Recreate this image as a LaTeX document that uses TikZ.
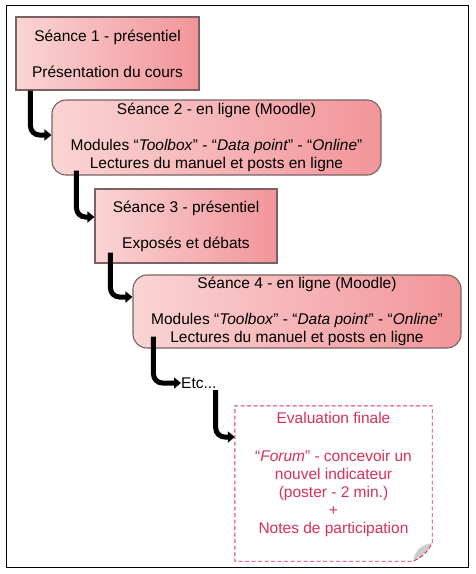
\documentclass[tikz,border=0pt]{standalone}
\usepackage{fontspec}
\setmainfont{Liberation Sans}
\usetikzlibrary{arrows.meta}
\definecolor{boxedge}{HTML}{7A6262}
\definecolor{pinkL}{HTML}{FAD4D4}
\definecolor{pinkD}{HTML}{F2959A}
\definecolor{evalred}{HTML}{D9305A}
\begin{document}
\begin{tikzpicture}[x=1pt,y=-1pt,
  seance/.style={draw=boxedge, line width=1.1pt, left color=pinkL, right color=pinkD,
    inner sep=0pt, font=\fontsize{15.5}{18}\selectfont, align=center},
  rbox/.style={seance, rounded corners=14pt},
  txt/.style={font=\fontsize{15.5}{18}\selectfont, align=center, inner sep=0pt},
  flow/.style={line width=5pt, rounded corners=9pt, -{Triangle[length=7pt,width=11pt]}},
  evaldash/.style={draw=evalred, line width=0.9pt, dash pattern=on 4pt off 2.5pt}
]
\useasboundingbox (0,0) rectangle (476,574);
\draw[line width=1pt] (6,5) rectangle (468,567);

\node[seance, minimum width=183pt, minimum height=73pt] (s1) at (107.5,53.5)
  {S\'eance 1 - pr\'esentiel\\[18pt]Pr\'esentation du cours};
\node[rbox, minimum width=329pt, minimum height=75pt] (s2) at (216.5,137.5)
  {S\'eance 2 - en ligne (Moodle)\\[18pt]Modules “\textit{Toolbox}” - “\textit{Data point}” - “\textit{Online}”\\Lectures du manuel et posts en ligne};
\node[seance, minimum width=182pt, minimum height=74pt] (s3) at (186,226)
  {S\'eance 3 - pr\'esentiel\\[18pt]Expos\'es et d\'ebats};
\node[rbox, minimum width=328pt, minimum height=73pt] (s4) at (297,311.5)
  {S\'eance 4 - en ligne (Moodle)\\[18pt]Modules “\textit{Toolbox}” - “\textit{Data point}” - “\textit{Online}”\\Lectures du manuel et posts en ligne};
\node[txt, anchor=west] (etc) at (181,383) {Etc...};

\node[minimum width=197pt, minimum height=155pt, inner sep=0pt] (ev) at (333.5,483.5) {};
\fill[white] (ev.north west) -- (ev.north east) -- ([yshift=18pt]ev.south east)
  .. controls ([xshift=-6pt,yshift=10pt]ev.south east) .. ([xshift=-19pt]ev.south east)
  -- (ev.south west) -- cycle;
\fill[gray!40] ([yshift=18pt]ev.south east)
  .. controls ([xshift=-14pt,yshift=16pt]ev.south east) and ([xshift=-17pt,yshift=9pt]ev.south east) .. ([xshift=-19pt]ev.south east)
  .. controls ([xshift=-10pt,yshift=4pt]ev.south east) and ([xshift=-4pt,yshift=10pt]ev.south east) .. cycle;
\draw[evaldash] ([yshift=18pt]ev.south east) -- (ev.north east) -- (ev.north west)
  -- (ev.south west) -- ([xshift=-19pt]ev.south east)
  .. controls ([xshift=-10pt,yshift=4pt]ev.south east) and ([xshift=-4pt,yshift=10pt]ev.south east) .. ([yshift=18pt]ev.south east);
\node[txt, text=evalred] (evt) at (333.5,474.5)
  {Evaluation finale\\[20pt]“\textit{Forum}” - concevoir un\\nouvel indicateur\\(poster - 2 min.)\\+\\Notes de participation};

\draw[flow] ([xshift=15pt]s1.south west) |- ([yshift=2.5pt]s2.west);
\draw[flow] ([xshift=25pt,yshift=5pt]s2.south west) |- ([yshift=9pt]s3.west);
\draw[flow] ([xshift=16pt,yshift=11pt]s3.south west) |- ([yshift=14.5pt]s4.west);
\draw[flow] ([xshift=21pt,yshift=12pt]s4.south west) |- (etc.west);
\draw[flow] ([xshift=-1pt,yshift=-7pt]etc.east) |- ([yshift=46.5pt]ev.west);
\end{tikzpicture}
\end{document}
